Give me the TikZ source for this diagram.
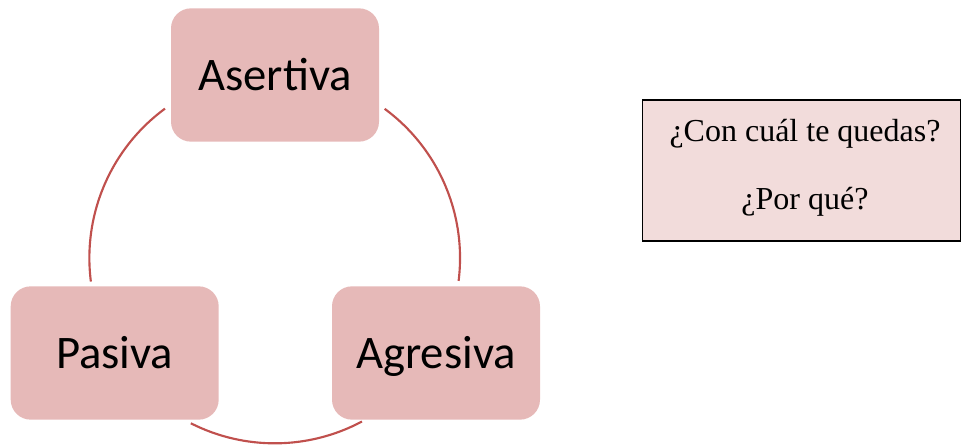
\documentclass[tikz,border=0pt]{standalone}
\usepackage{fontspec}
\setmainfont{Liberation Serif}
\newfontfamily\calibri{Carlito}
\definecolor{boxfill}{HTML}{E6B9B8}
\definecolor{arcred}{HTML}{C0504D}
\definecolor{qfill}{HTML}{F2DCDB}
\begin{document}
\begin{tikzpicture}[x=0.75pt,y=0.75pt,
  stage/.style={rectangle, rounded corners=15pt, fill=boxfill, draw=none,
    minimum width=156pt, minimum height=100pt, inner sep=0pt,
    font={\calibri\fontsize{35}{42}\selectfont}, text height=22.5pt, text depth=0pt},
  ring/.style={draw=arcred, line width=1.6pt},
  qbox/.style={rectangle, draw=black, line width=1.2pt, fill=qfill, inner sep=0pt,
    minimum width=238.5pt, minimum height=105.5pt},
  qtext/.style={anchor=base, font={\fontsize{24}{29}\selectfont}, inner sep=0pt}]
\useasboundingbox (0,0) rectangle (961,-446);
\coordinate (c) at (274.7,-258);
\draw[ring] (c) ++(126.3:139pt) arc[start angle=126.3, end angle=187.3, radius=139pt];
\draw[ring] (c) ++(243.1:139pt) arc[start angle=243.1, end angle=298.1, radius=139pt];
\draw[ring] (c) ++(-7.1:139pt) arc[start angle=-7.1, end angle=53.6, radius=139pt];
\node[stage] (asertiva) at (275,-75) {Asertiva};
\node[stage] (pasiva) at (114.7,-353) {Pasiva};
\node[stage] (agresiva) at (436,-353) {Agresiva};
\node[qbox] (q) at (801.3,-170.5) {};
\node[qtext] (q1) at (805,-141) {¿Con cuál te quedas?};
\node[qtext] (q2) at (805,-209) {¿Por qué?};
\end{tikzpicture}
\end{document}
